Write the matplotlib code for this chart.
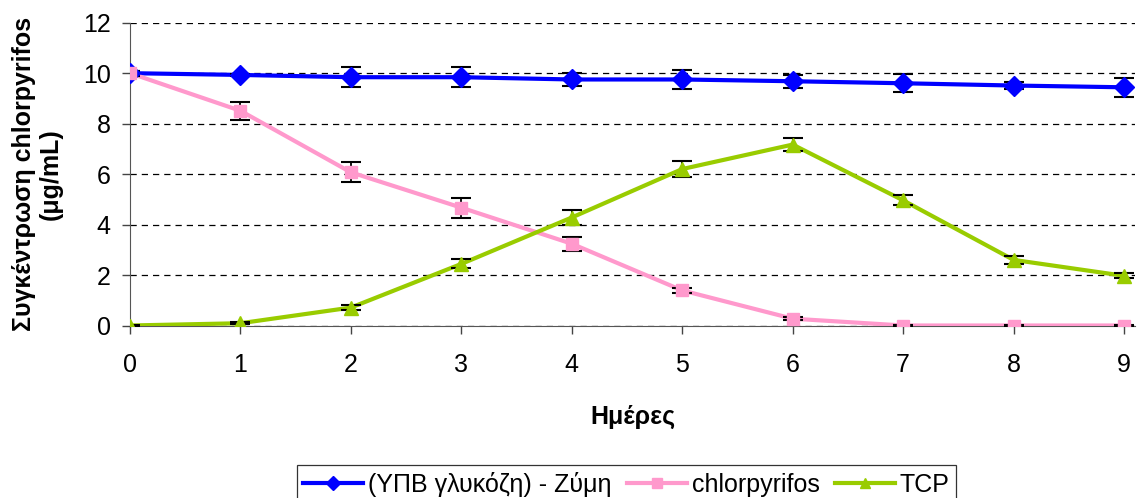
import numpy as np
import matplotlib.pyplot as plt
from matplotlib.lines import Line2D

plt.rcParams['font.family'] = ['Liberation Sans', 'DejaVu Sans']

days = np.arange(10)
enzyme = [10.0, 9.93, 9.84, 9.84, 9.75, 9.75, 9.68, 9.60, 9.51, 9.44]
enzyme_err = [0.10, 0.05, 0.40, 0.40, 0.27, 0.37, 0.26, 0.36, 0.13, 0.37]
chlorpyrifos = [10.0, 8.51, 6.07, 4.67, 3.24, 1.39, 0.27, 0.0, 0.0, 0.0]
chlorpyrifos_err = [0.10, 0.36, 0.40, 0.40, 0.28, 0.10, 0.05, 0.02, 0.02, 0.02]
tcp = [0.0, 0.09, 0.71, 2.44, 4.28, 6.20, 7.17, 4.96, 2.60, 1.97]
tcp_err = [0.02, 0.03, 0.10, 0.18, 0.28, 0.30, 0.25, 0.20, 0.15, 0.10]

names = ['(ΥΠΒ γλυκόζη) - Ζύμη', 'chlorpyrifos', 'TCP']
colors = ['#0000ff', '#ff99cc', '#99cc00']
markers = ['D', 's', '^']
sizes = [10, 9, 10]

fig = plt.figure(figsize=(11.41, 4.98), dpi=100)
# axes box: x from 130 to 1135 px, y from 22.7 to 325.5 px
ax = fig.add_axes([130 / 1141, 1 - 325.5 / 498, 1005 / 1141, 302.8 / 498])

handles = []
for y, err, name, c, m, ms in zip([enzyme, chlorpyrifos, tcp],
                                  [enzyme_err, chlorpyrifos_err, tcp_err],
                                  names, colors, markers, sizes):
    ax.plot(days, y, color=c, lw=3, zorder=3)
    ax.errorbar(days, y, yerr=err, fmt='none', ecolor='black',
                elinewidth=1.3, capsize=7, capthick=1.5, zorder=4)
    ax.plot(days, y, ls='none', marker=m, ms=ms, color=c, mec=c, zorder=5)
    handles.append(Line2D([], [], color=c, lw=3, marker=m, ms=ms * 0.75, label=name))

ax.set_xlim(0, 9 * 1005 / 994)
ax.set_ylim(0, 12)
ax.set_xticks(days)
ax.set_yticks(np.arange(0, 13, 2))
ax.tick_params(labelsize=18, direction='out', length=6, width=1, color='#444444')
ax.tick_params(axis='x', pad=14)
ax.tick_params(axis='y', pad=8)
for s in ['top', 'right']:
    ax.spines[s].set_visible(False)
for s in ['left', 'bottom']:
    ax.spines[s].set_color('#555555')
ax.yaxis.grid(True, linestyle=(0, (5, 4)), color='black', lw=0.9)
ax.set_axisbelow(True)

ax.set_xlabel('Ημέρες', fontsize=18, fontweight='bold', labelpad=20)
ax.set_ylabel('Συγκέντρωση chlorpyrifos\n(μg/mL)', fontsize=18, fontweight='bold',
              labelpad=14, linespacing=1.15)

leg = fig.legend(handles=handles, loc='lower center', bbox_to_anchor=(0.549, -0.01),
                 ncol=3, fontsize=18, frameon=True, fancybox=False, edgecolor='black',
                 handlelength=2.4, columnspacing=0.6, handletextpad=0.2,
                 borderpad=0.25, borderaxespad=0.0)
leg.get_frame().set_linewidth(0.9)

fig.savefig('out.png', dpi=100)
